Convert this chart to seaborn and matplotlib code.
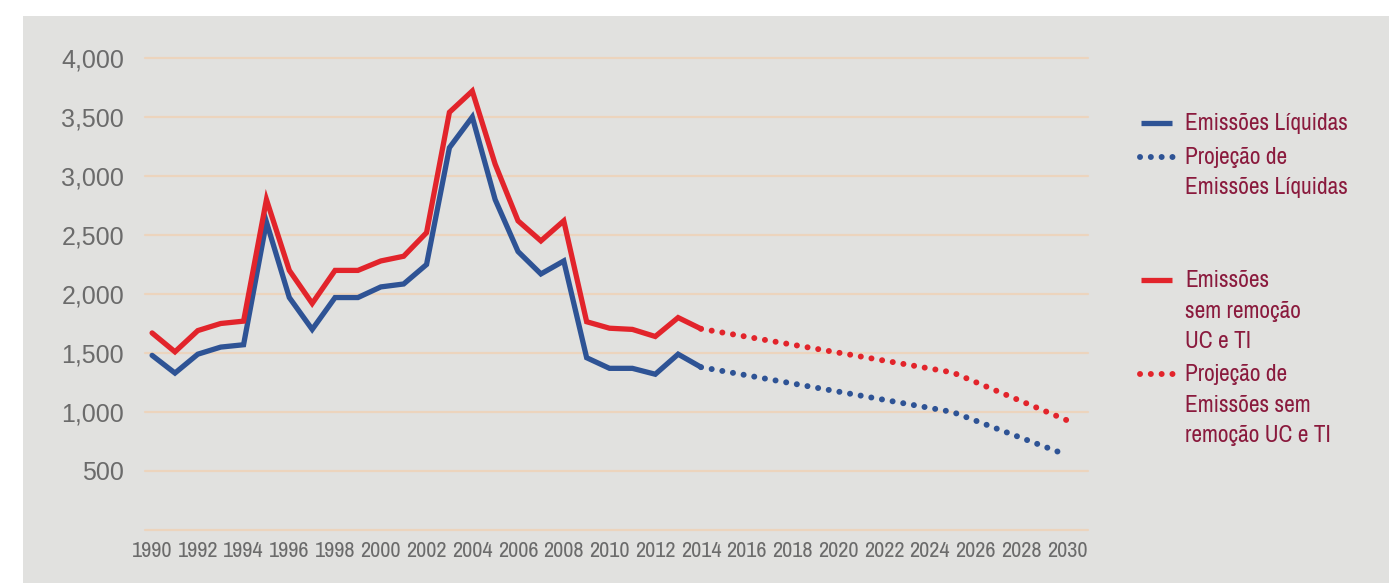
import matplotlib
matplotlib.use("Agg")
import matplotlib.pyplot as plt
from matplotlib import font_manager as fm
from matplotlib.lines import Line2D
from matplotlib.patches import Rectangle
from matplotlib.ticker import FuncFormatter
import seaborn as sns

# Historical series (1990-2014)
years = list(range(1990, 2015))
emissoes_liquidas = [1480, 1330, 1490, 1550, 1570, 2610, 1970, 1700, 1970, 1970,
                     2060, 2085, 2250, 3240, 3500, 2800, 2360, 2170, 2280, 1460,
                     1370, 1370, 1320, 1490, 1380]
emissoes_sem_remocao = [1670, 1510, 1690, 1750, 1770, 2800, 2200, 1920, 2200, 2200,
                        2280, 2320, 2520, 3540, 3720, 3100, 2620, 2450, 2620, 1765,
                        1710, 1700, 1640, 1800, 1705]

# Projections (2014-2030)
proj_years = [2014, 2025, 2030]
proj_liquidas = [1380, 1000, 635]
proj_sem_remocao = [1705, 1335, 930]

x_ticks = list(range(1990, 2031, 2))
y_ticks = [0, 500, 1000, 1500, 2000, 2500, 3000, 3500, 4000]

legend_entries = [
    ("Emissões Líquidas", ["Emissões Líquidas"]),
    ("Projeção de Emissões Líquidas", ["Projeção de", "Emissões Líquidas"]),
    ("Emissões sem remoção UC e TI", ["Emissões", "sem remoção", "UC e TI"]),
    ("Projeção de Emissões sem remoção UC e TI", ["Projeção de", "Emissões sem", "remoção UC e TI"]),
]

BLUE = "#2e5395"
RED = "#e2242b"
PANEL = "#e1e1df"
GRID = "#ecd4bd"
TICK = "#6b6b6b"
LEGEND_TXT = "#8a1a3d"

sns.set_theme(style="white")
plt.rcParams["font.family"] = ["Liberation Sans", "DejaVu Sans"]


def narrow_font():
    """Pick a condensed sans family if one is installed."""
    entries = fm.fontManager.ttflist
    for key in ("Narrow", "Condensed"):
        for f in entries:
            if key in f.name and "Mono" not in f.name and "Serif" not in f.name:
                return {"family": [f.name, "DejaVu Sans"]}
    for f in entries:
        if str(f.stretch) in ("condensed", "semi-condensed", "extra-condensed") \
                and "Mono" not in f.name and "Serif" not in f.name:
            return {"family": [f.name, "DejaVu Sans"], "stretch": f.stretch}
    return {"family": ["Roboto", "Liberation Sans", "DejaVu Sans"]}


NARROW = narrow_font()

W, H = 1389, 583
fig = plt.figure(figsize=(W / 100, H / 100), dpi=100, facecolor="white")
fig.add_artist(Rectangle((23 / W, 0), 1 - 23 / W, 1 - 16 / H,
                         transform=fig.transFigure, facecolor=PANEL,
                         edgecolor="none", zorder=0))
renderer = fig.canvas.get_renderer()


def fit_size(sample, target_px, max_pt):
    """Font size (pt) at which `sample` spans about target_px in the narrow family."""
    t = fig.text(0, 0, sample, fontsize=10, **NARROW)
    w = t.get_window_extent(renderer).width
    t.remove()
    return min(max_pt, 10 * target_px / w)


ax = fig.add_axes([145 / W, 1 - 530 / H, (1088 - 145) / W, (530 - 58) / H])
ax.set_facecolor(PANEL)
ax.patch.set_alpha(0)

dot = (0, (0.01, 1.8))
sns.lineplot(x=years, y=emissoes_liquidas, ax=ax, color=BLUE, linewidth=3.8,
             solid_joinstyle="miter", zorder=3)
sns.lineplot(x=years, y=emissoes_sem_remocao, ax=ax, color=RED, linewidth=3.8,
             solid_joinstyle="miter", zorder=3)
sns.lineplot(x=proj_years, y=proj_liquidas, ax=ax, color=BLUE, linewidth=4.3,
             linestyle=dot, dash_capstyle="round", zorder=3)
sns.lineplot(x=proj_years, y=proj_sem_remocao, ax=ax, color=RED, linewidth=4.3,
             linestyle=dot, dash_capstyle="round", zorder=3)

ax.set_xlim(1989.69, 2030.92)
ax.set_ylim(0, 4000)
ax.set_xticks(x_ticks)
ax.set_yticks(y_ticks)
ax.yaxis.set_major_formatter(FuncFormatter(lambda v, p: "" if v == 0 else f"{int(v):,}"))
ax.grid(axis="y", color=GRID, linewidth=1.6, zorder=1)
ax.grid(axis="x", visible=False)
for gl in ax.get_ygridlines():
    gl.set_clip_on(False)
for s in ax.spines.values():
    s.set_visible(False)
ax.tick_params(axis="both", length=0)
ax.tick_params(axis="y", pad=15, labelsize=18, labelcolor=TICK)
xsize = fit_size("1990", 41, 16)
ax.tick_params(axis="x", pad=8, labelsize=xsize, labelcolor=TICK)
for lbl in ax.get_xticklabels():
    lbl.set_family(NARROW["family"])
    if "stretch" in NARROW:
        lbl.set_stretch(NARROW["stretch"])
ax.set_xlabel("")
ax.set_ylabel("")

# Legend drawn beside the plot
lsize = fit_size("Emissões Líquidas", 164, 17)
styles = [(123, BLUE, "-"), (157, BLUE, ":"), (280, RED, "-"), (374, RED, ":")]
line_step = 30.5
for (yc, col, style), (_, lines) in zip(styles, legend_entries):
    yf = 1 - yc / H
    if style == "-":
        fig.add_artist(Line2D([1141 / W, 1172 / W], [yf, yf], color=col,
                              linewidth=3.8, solid_capstyle="butt",
                              transform=fig.transFigure))
    else:
        fig.add_artist(Line2D([1140 / W, 1174 / W], [yf, yf], color=col,
                              linewidth=4.3, linestyle=dot, dash_capstyle="round",
                              transform=fig.transFigure))
    for i, t in enumerate(lines):
        fig.text(1185 / W, 1 - (yc + 7 + i * line_step) / H, t, ha="left",
                 va="baseline", fontsize=lsize, color=LEGEND_TXT, **NARROW)

fig.savefig("out.png", dpi=100, facecolor="white")
